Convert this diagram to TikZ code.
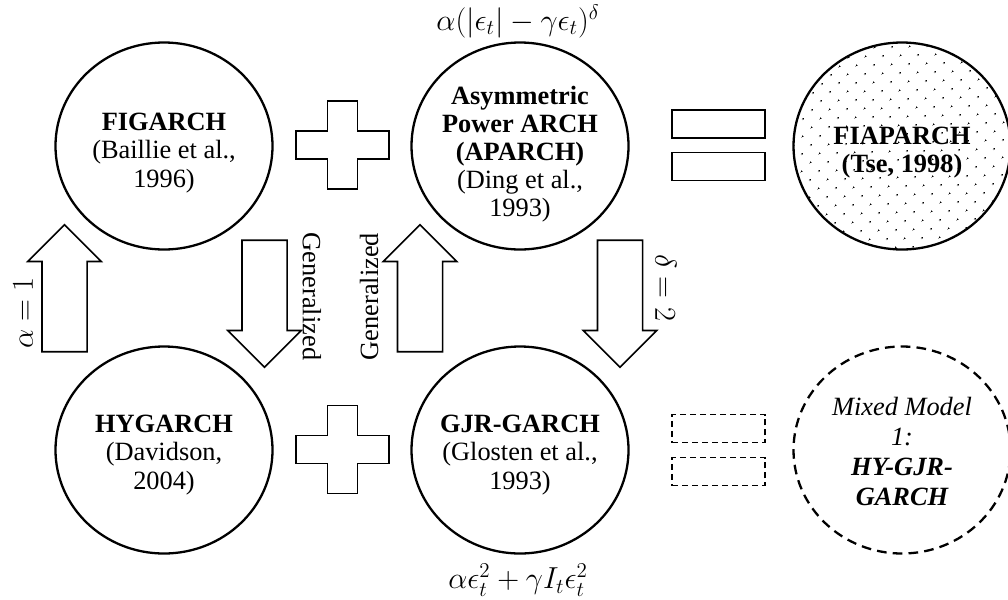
\documentclass[tikz,border=0pt]{standalone}
\usepackage{fontspec}
\setmainfont{Liberation Serif}
\usepackage{tikz}
\usetikzlibrary{positioning, shapes.geometric, shapes.arrows, patterns.meta}

\begin{document}
\begin{tikzpicture}[
    font=\fontsize{15}{16}\selectfont,
    model/.style={ellipse, draw=black, line width=1.3pt, minimum width=4.34cm, minimum height=4.14cm, inner sep=0pt},
    modeltext/.style={align=center, inner sep=0pt},
    blockarrow/.style={single arrow, draw=black, line width=0.9pt, single arrow head extend=0.285cm, inner sep=0.435cm, minimum height=2.54cm},
    eqbar/.style={rectangle, draw=black, line width=1pt, minimum width=1.86cm, minimum height=0.56cm, inner sep=0pt},
    plussign/.style={draw=black, line width=1pt}
]
\useasboundingbox (0, 0) rectangle (20.16, -11.98);

% models
\node[model](fig) at (3.28, -2.92) {};
\node[model](aparch) at (10.4, -2.92) {};
\node[model, pattern={Dots[distance=7.4pt, radius=0.6pt, angle=45]}](fiaparch) at (18.04, -2.92) {};
\node[model](hygarch) at (3.28, -9.0) {};
\node[model](gjr) at (10.4, -9.0) {};
\node[model, dash pattern=on 5.5pt off 3.5pt](mixed) at (18.04, -9.0) {};

\node[modeltext](figTxt) at ([yshift=-0.14cm]fig.center) {\textbf{FIGARCH}\\(Baillie et al.,\\1996)};
\node[modeltext](aparchTxt) at ([yshift=-0.16cm]aparch.center) {\textbf{Asymmetric}\\\textbf{Power ARCH}\\\textbf{(APARCH)}\\(Ding et al.,\\1993)};
\node[modeltext](fiaparchTxt) at ([yshift=-0.14cm]fiaparch.center) {\textbf{FIAPARCH}\\\textbf{(Tse, 1998)}};
\node[modeltext](hygarchTxt) at ([yshift=-0.1cm]hygarch.center) {\textbf{HYGARCH}\\(Davidson,\\2004)};
\node[modeltext](gjrTxt) at ([yshift=-0.1cm]gjr.center) {\textbf{GJR-GARCH}\\(Glosten et al.,\\1993)};
\node[modeltext, font=\fontsize{15}{17}\selectfont\itshape](mixedTxt) at ([yshift=-0.03cm]mixed.center) {Mixed Model\\1:\\\textbf{HY-GJR-}\\\textbf{GARCH}};

% plus and equals
\coordinate (plusTop) at (6.85, -2.9);
\coordinate (plusBot) at (6.85, -8.99);
\draw[plussign, shift={(plusTop)}] (-0.3, 0.88) -- (0.3, 0.88) -- (0.3, 0.28) -- (0.93, 0.28) -- (0.93, -0.28) -- (0.3, -0.28) -- (0.3, -0.88) -- (-0.3, -0.88) -- (-0.3, -0.28) -- (-0.93, -0.28) -- (-0.93, 0.28) -- (-0.3, 0.28) -- cycle;
\draw[plussign, shift={(plusBot)}] (-0.3, 0.88) -- (0.3, 0.88) -- (0.3, 0.28) -- (0.93, 0.28) -- (0.93, -0.28) -- (0.3, -0.28) -- (0.3, -0.88) -- (-0.3, -0.88) -- (-0.3, -0.28) -- (-0.93, -0.28) -- (-0.93, 0.28) -- (-0.3, 0.28) -- cycle;

\node[eqbar](eqTop1) at (14.37, -2.48) {};
\node[eqbar](eqTop2) at (14.37, -3.33) {};
\node[eqbar, dash pattern=on 3.4pt off 2.3pt](eqBot1) at (14.37, -8.57) {};
\node[eqbar, dash pattern=on 3.4pt off 2.3pt](eqBot2) at (14.37, -9.43) {};

% block arrows
\node[blockarrow, shape border rotate=90](alphaArr) at (1.29, -5.99) {};
\node[blockarrow, shape border rotate=270](genDown) at (5.29, -5.85) {};
\node[blockarrow, shape border rotate=90](genUp) at (8.4, -5.99) {};
\node[blockarrow, shape border rotate=270](deltaArr) at (12.4, -5.85) {};

% labels
\node[rotate=90, font=\fontsize{16}{17}\selectfont](alphaLbl) at (0.46, -6.26) {$\alpha = 1$};
\node[rotate=-90](genDownLbl) at (6.24, -5.93) {Generalized};
\node[rotate=90](genUpLbl) at (7.38, -5.93) {Generalized};
\node[rotate=-90, font=\fontsize{16}{17}\selectfont](deltaLbl) at (13.32, -5.75) {$\delta = 2$};

\node[font=\fontsize{17}{18}\selectfont](aparchEq) at (10.36, -0.42) {$\alpha(|\epsilon_t| - \gamma\epsilon_t)^{\delta}$};
\node[font=\fontsize{17}{18}\selectfont](gjrEq) at (10.36, -11.6) {$\alpha\epsilon_t^2 + \gamma I_t\epsilon_t^2$};
\end{tikzpicture}
\end{document}
